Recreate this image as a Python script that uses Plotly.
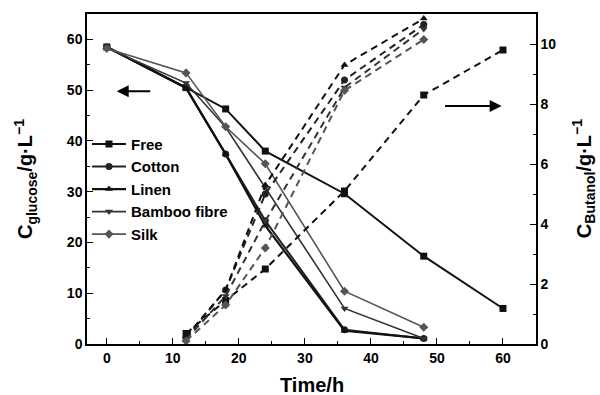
import plotly.graph_objects as go

# ---- data ----
series_names = ["Free", "Cotton", "Linen", "Bamboo fibre", "Silk"]
time_glucose_free = [0, 12, 18, 24, 36, 48, 60]
time_glucose_fibre = [0, 12, 18, 24, 36, 48]
glucose_free = [58.5, 50.5, 46.3, 38.0, 29.6, 17.3, 7.0]
glucose_cotton = [58.5, 50.5, 37.4, 24.3, 2.8, 1.1]
glucose_linen = [58.5, 50.4, 37.4, 23.3, 2.6, 1.1]
glucose_bamboo = [58.3, 51.4, 42.7, 30.8, 7.0, 1.1]
glucose_silk = [58.2, 53.4, 42.8, 35.5, 10.4, 3.3]

time_butanol_free = [12, 18, 24, 36, 48, 60]
time_butanol_fibre = [12, 18, 24, 36, 48]
butanol_free = [0.35, 1.45, 2.5, 5.1, 8.3, 9.8]
butanol_cotton = [0.2, 1.8, 5.0, 8.8, 10.65]
butanol_linen = [0.25, 1.8, 5.3, 9.3, 10.85]
butanol_bamboo = [0.15, 1.6, 4.1, 8.55, 10.5]
butanol_silk = [0.1, 1.3, 3.2, 8.45, 10.15]

x_ticks = [0, 10, 20, 30, 40, 50, 60]

FONT = "Arial, Liberation Sans, sans-serif"

styles = [
    dict(color="#111111", width=2.0, symbol="square"),
    dict(color="#222222", width=2.0, symbol="circle"),
    dict(color="#111111", width=2.2, symbol="triangle-up"),
    dict(color="#333333", width=1.6, symbol="triangle-down"),
    dict(color="#555555", width=1.6, symbol="diamond"),
]

glu = [
    (time_glucose_free, glucose_free),
    (time_glucose_fibre, glucose_cotton),
    (time_glucose_fibre, glucose_linen),
    (time_glucose_fibre, glucose_bamboo),
    (time_glucose_fibre, glucose_silk),
]
but = [
    (time_butanol_free, butanol_free),
    (time_butanol_fibre, butanol_cotton),
    (time_butanol_fibre, butanol_linen),
    (time_butanol_fibre, butanol_bamboo),
    (time_butanol_fibre, butanol_silk),
]

fig = go.Figure()
for name, st, (t, v) in zip(series_names, styles, glu):
    fig.add_trace(go.Scatter(
        x=t, y=v, name=f"<b>{name}</b>", mode="lines+markers",
        line=dict(color=st["color"], width=st["width"]),
        marker=dict(symbol=st["symbol"], size=7, color=st["color"]),
        yaxis="y"))
for name, st, (t, v) in zip(series_names, styles, but):
    fig.add_trace(go.Scatter(
        x=t, y=v, name=name, mode="lines+markers", showlegend=False,
        line=dict(color=st["color"], width=2, dash="7px,5px"),
        marker=dict(symbol=st["symbol"], size=7, color=st["color"]),
        yaxis="y2"))

axis_common = dict(showline=True, linecolor="black", linewidth=1.5,
                   ticks="inside", ticklen=6, tickwidth=1.2, tickcolor="black",
                   showgrid=False, zeroline=False,
                   tickfont=dict(family=FONT, size=14, color="black"))

fig.update_layout(
    width=600, height=395,
    margin=dict(l=87, r=64, t=12, b=51),
    paper_bgcolor="white", plot_bgcolor="white",
    font=dict(family=FONT, color="black"),
    xaxis=dict(range=[-3, 65], tickvals=x_ticks, ticktext=[f"<b>{v}</b>" for v in x_ticks],
               mirror=True,
               minor=dict(dtick=5, tick0=0, ticks="inside", ticklen=3, tickcolor="black"),
               **axis_common),
    yaxis=dict(range=[0, 65], dtick=10, tick0=0, tickprefix="<b>", ticksuffix="</b>",
               minor=dict(dtick=5, tick0=0, ticks="inside", ticklen=3, tickcolor="black"),
               **axis_common),
    yaxis2=dict(range=[0, 11], dtick=2, tick0=0, overlaying="y", side="right",
                tickprefix="<b>", ticksuffix="</b>",
                minor=dict(dtick=1, tick0=0, ticks="inside", ticklen=3, tickcolor="black"),
                **axis_common),
    legend=dict(x=0.0, y=0.655, xanchor="left", yanchor="top",
                bgcolor="rgba(0,0,0,0)", tracegroupgap=0,
                font=dict(family=FONT, size=15, color="black"),
                itemwidth=34),
    showlegend=True,
)

# axis titles
fig.add_annotation(text="<b>C<sub>glucose</sub>/g·L<sup>−1</sup></b>", xref="paper", yref="paper",
                   x=-0.138, y=0.5, xanchor="center", textangle=-90, showarrow=False,
                   font=dict(family=FONT, size=20, color="black"))
fig.add_annotation(text="<b>C<sub>Butanol</sub>/g·L<sup>−1</sup></b>", xref="paper", yref="paper",
                   x=1.105, y=0.5, xanchor="center", textangle=-90, showarrow=False,
                   font=dict(family=FONT, size=20, color="black"))
fig.add_annotation(text="<b>Time/h</b>", xref="paper", yref="paper",
                   x=0.5, y=-0.123, yanchor="middle", showarrow=False,
                   font=dict(family=FONT, size=20, color="black"))

# direction arrows
fig.add_annotation(x=1.5, y=49.8, ax=6.8, ay=49.8, xref="x", yref="y", axref="x", ayref="y",
                   text="", showarrow=True, arrowhead=2, arrowsize=1.2, arrowwidth=2, arrowcolor="black")
fig.add_annotation(x=59.8, y=46.9, ax=51, ay=46.9, xref="x", yref="y", axref="x", ayref="y",
                   text="", showarrow=True, arrowhead=2, arrowsize=1.2, arrowwidth=2, arrowcolor="black")

fig.write_html("out.html", config={"displayModeBar": False},
               post_script="document.body.style.margin='0';")
